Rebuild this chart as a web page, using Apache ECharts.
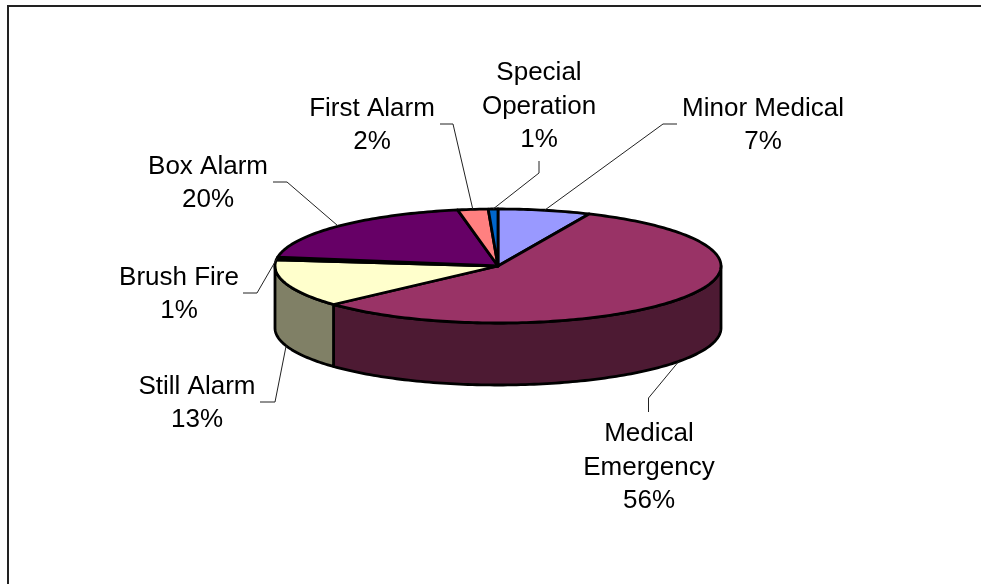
<!DOCTYPE html>
<html>
<head>
<meta charset="utf-8">
<title>Incident types</title>
<style>
  html, body { margin: 0; padding: 0; background: #fff; }
  #chart { width: 981px; height: 584px; }
</style>
</head>
<body>
<div id="chart"></div>
<script src="https://cdn.jsdelivr.net/npm/echarts@6/dist/echarts.min.js"></script>
<script>
// chart data
const categories = ['Minor Medical', 'Medical Emergency', 'Still Alarm', 'Brush Fire', 'Box Alarm', 'First Alarm', 'Special Operation']
const values = [6.7, 56.5, 13.5, 0.8, 19.6, 2.2, 0.7]
const percentLabels = ['7%', '56%', '13%', '1%', '20%', '2%', '1%']
const topColors = ['#9999FF', '#993366', '#FFFFCC', '#CCFFFF', '#660066', '#FF8080', '#0066CC']
const sideColors = ['#4D4D80', '#4D1A33', '#808066', '#668080', '#330033', '#804040', '#003366']

// label layout, same order as categories: text centre and leader elbow
const labelLines = [['Minor Medical'], ['Medical', 'Emergency'], ['Still Alarm'], ['Brush Fire'], ['Box Alarm'], ['First Alarm'], ['Special', 'Operation']]
const labelCentres = [[763, 125.5], [649, 467.5], [197, 403.5], [179, 294.5], [208, 183.5], [372, 125.5], [539, 106.5]]
const leaderStarts = [[677, 124], [648.5, 412], [260, 402], [243, 293], [273, 182], [440, 124], [539, 161]]
const leaderElbows = [[663, 124], [648.5, 398], [275, 402], [257, 293], [287, 182], [453, 124], [539, 173]]

// pie geometry
const cx = 498
const cy = 266
const rx = 223
const ry = 57
const depth = 62
const total = values.reduce((a, b) => a + b, 0)

const pointAt = (angle, drop) => [cx + rx * Math.sin(angle), cy - ry * Math.cos(angle) + (drop || 0)]

const arcPoints = (from, to, drop) => {
  const steps = Math.max(2, Math.ceil((to - from) / 0.02))
  const pts = []
  for (let i = 0; i <= steps; i++) {
    pts.push(pointAt(from + (to - from) * i / steps, drop))
  }
  return pts
}

const sliceAngles = values.map((v, i) => {
  const before = values.slice(0, i).reduce((a, b) => a + b, 0)
  return [before / total * Math.PI * 2, (before + v) / total * Math.PI * 2]
})

const outline = { stroke: '#000', lineWidth: 2.8, lineJoin: 'round' }

const renderSlice = (params, api) => {
  const i = params.dataIndex
  const start = sliceAngles[i][0]
  const end = sliceAngles[i][1]
  const children = []

  // only the front half of the wall can be seen
  const wallFrom = Math.max(start, Math.PI / 2)
  const wallTo = Math.min(end, Math.PI * 1.5)
  if (wallTo > wallFrom) {
    const wall = arcPoints(wallFrom, wallTo, 0).concat(arcPoints(wallFrom, wallTo, depth).reverse())
    children.push({
      type: 'polygon',
      shape: { points: wall },
      style: Object.assign({ fill: sideColors[i] }, outline)
    })
  }

  children.push({
    type: 'polygon',
    shape: { points: [[cx, cy]].concat(arcPoints(start, end, 0)) },
    style: Object.assign({ fill: api.visual('color') }, outline)
  })
  return { type: 'group', children: children }
}

const renderLabel = (params) => {
  const i = params.dataIndex
  const mid = (sliceAngles[i][0] + sliceAngles[i][1]) / 2
  const isFront = mid > Math.PI / 2 && mid < Math.PI * 1.5
  const anchor = pointAt(mid, isFront ? depth : 0)
  return {
    type: 'group',
    children: [
      {
        type: 'polyline',
        shape: { points: [leaderStarts[i], leaderElbows[i], anchor] },
        style: { stroke: '#222', lineWidth: 1, fill: null }
      },
      {
        type: 'text',
        x: labelCentres[i][0],
        y: labelCentres[i][1],
        style: {
          text: labelLines[i].concat(percentLabels[i]).join('\n'),
          fill: '#000',
          font: '26px "Liberation Sans", Arial, sans-serif',
          lineHeight: 33.5,
          align: 'center',
          verticalAlign: 'middle'
        }
      }
    ]
  }
}

const seriesData = categories.map((name, i) => ({
  name: name,
  value: values[i],
  itemStyle: { color: topColors[i] }
}))

const chart = echarts.init(document.getElementById('chart'), null, { renderer: 'canvas' })
chart.setOption({
  animation: false,
  backgroundColor: '#fff',
  graphic: [{
    type: 'polyline',
    shape: { points: [[8, 584], [8, 6], [981, 6]] },
    style: { stroke: '#222', lineWidth: 2, fill: null },
    silent: true
  }],
  series: [
    { type: 'custom', coordinateSystem: 'none', silent: true, z: 2, data: seriesData, renderItem: renderSlice },
    { type: 'custom', coordinateSystem: 'none', silent: true, z: 3, data: seriesData, renderItem: renderLabel }
  ]
})

window.addEventListener('resize', () => chart.resize())
</script>
</body>
</html>
